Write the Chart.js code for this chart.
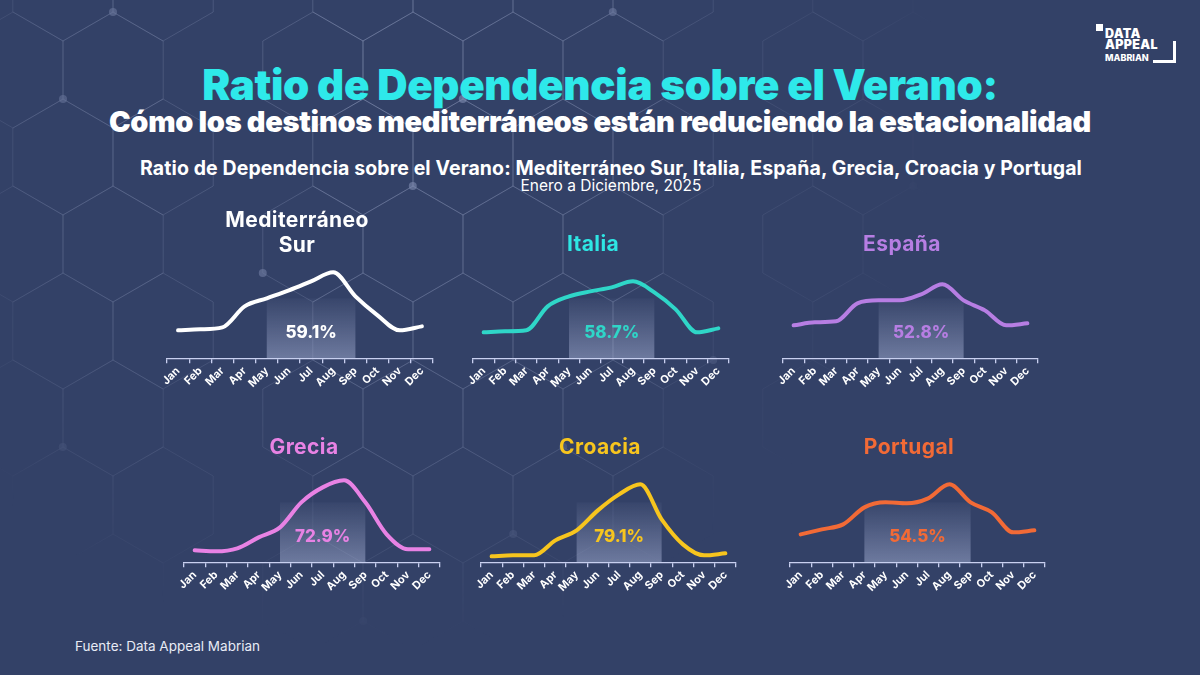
<!DOCTYPE html>
<html lang="es">
<head>
<meta charset="utf-8">
<title>Ratio de Dependencia sobre el Verano</title>
<script src="https://cdn.jsdelivr.net/npm/chart.js@4.4.1/dist/chart.umd.min.js"></script>
<style>
  html, body { margin: 0; padding: 0; }
  body {
    width: 1200px; height: 675px; overflow: hidden; position: relative;
    background: #334167; font-family: Inter, "Noto Sans", sans-serif; color: #fff;
  }
  #hex { position: absolute; left: 0; top: 0; }
  .txt { position: absolute; white-space: nowrap; }
  .center { transform: translateX(-50%); text-align: center; }
  #title { left: 600px; top: 62px; font-size: 42px; font-weight: 900; color: #2ee9ea; letter-spacing: -0.3px; line-height: 46px; }
  #subtitle { left: 600px; top: 105px; font-size: 29px; font-weight: 900; letter-spacing: -0.3px; line-height: 34px; }
  #chartTitle { left: 611px; top: 156px; font-size: 19.5px; font-weight: 700; line-height: 24px; letter-spacing: 0.1px; }
  #chartSub { left: 611px; top: 177px; font-size: 15.5px; font-weight: 400; line-height: 18px; }
  .regionTitle { font-size: 21px; font-weight: 700; line-height: 25px; letter-spacing: 0.4px; }
  #source { left: 75px; top: 638px; font-size: 13.5px; color: #e8ebf5; }
  #logo { position: absolute; left: 1094px; top: 22px; width: 90px; height: 46px; }
  #logo .sq { position: absolute; left: 2px; top: 2px; width: 7px; height: 7px; background: #fff; }
  #logo .l1 { position: absolute; left: 11px; top: 6px; font-size: 12.5px; font-weight: 900; line-height: 11px; letter-spacing: 0.3px; }
  #logo .l2 { position: absolute; left: 11px; top: 31px; font-size: 9px; font-weight: 800; line-height: 10px; }
  #logo .v { position: absolute; left: 79px; top: 19px; width: 3px; height: 22px; background: #fff; }
  #logo .h { position: absolute; left: 59px; top: 38px; width: 23px; height: 3px; background: #fff; }
  canvas.mini { position: absolute; }
</style>
</head>
<body>
<svg id="hex" width="1200" height="675"></svg>

<div id="title" class="txt center">Ratio de Dependencia sobre el Verano:</div>
<div id="subtitle" class="txt center">Cómo los destinos mediterráneos están reduciendo la estacionalidad</div>
<div id="chartTitle" class="txt center">Ratio de Dependencia sobre el Verano: Mediterráneo Sur, Italia, España, Grecia, Croacia y Portugal</div>
<div id="chartSub" class="txt center">Enero a Diciembre, 2025</div>
<div id="source" class="txt">Fuente: Data Appeal Mabrian</div>

<div id="logo">
  <div class="sq"></div>
  <div class="l1">DATA<br>APPEAL</div>
  <div class="l2">MABRIAN</div>
  <div class="v"></div>
  <div class="h"></div>
</div>

<script>
// ---- data ----
const months = ['Jan', 'Feb', 'Mar', 'Apr', 'May', 'Jun', 'Jul', 'Aug', 'Sep', 'Oct', 'Nov', 'Dec'];
const regions = ['Mediterráneo Sur', 'Italia', 'España', 'Grecia', 'Croacia', 'Portugal'];

// monthly visitor index
const medSur   = [28, 29, 31, 52, 60, 68, 77, 86, 62, 43, 28, 32];
const italia   = [26, 27, 28, 52, 62, 67, 71, 77, 66, 49, 26, 30];
const espana   = [33, 36, 37, 55, 58, 58, 64, 74, 58, 48, 33, 35];
const grecia   = [12, 11, 14, 25, 35, 60, 75, 82, 60, 28, 13, 13];
const croacia  = [ 6,  7,  7, 22, 32, 52, 68, 78, 43, 18,  7,  9];
const portugal = [28, 33, 38, 55, 60, 59, 64, 78, 60, 50, 30, 32];

const ratios = [59.1, 58.7, 52.8, 72.9, 79.1, 54.5];
const summerStart = ['May', 'May', 'May', 'May', 'May', 'Apr'];
const summerEnd = ['Sep', 'Sep', 'Sep', 'Sep', 'Sep', 'Sep'];

const series = [medSur, italia, espana, grecia, croacia, portugal];

// ---- styles / layout ----
const colors = ['#ffffff', '#2fd6c8', '#b77ee3', '#e882e4', '#f7c51e', '#f26a36'];
const titleColors = ['#ffffff', '#2ee6e4', '#b77ee3', '#e882e4', '#f7c51e', '#f26a36'];
// chart area left/right edge and axis line position
const panels = [
    { x0: 167, x1: 433, axis: 358, tx: 297, ty: 207 },
    { x0: 473, x1: 729, axis: 358, tx: 593, ty: 231 },
    { x0: 783, x1: 1038, axis: 358, tx: 902, ty: 231 },
    { x0: 184, x1: 440, axis: 562, tx: 304, ty: 434 },
    { x0: 481, x1: 736, axis: 562, tx: 600, ty: 434 },
    { x0: 790, x1: 1045, axis: 562, tx: 909, ty: 434 }
];
const BOX_TOP = 60;     // value units (1 unit = 1px)
const LABEL_Y = 25;

// ---- background hexagon network ----
function drawHexBackground() {
    const svg = document.getElementById('hex');
    const ns = 'http://www.w3.org/2000/svg';
    const defs = document.createElementNS(ns, 'defs');
    defs.innerHTML =
        '<radialGradient id="fade" cx="380" cy="90" r="560" gradientUnits="userSpaceOnUse">' +
        '<stop offset="0" stop-color="#fff" stop-opacity="1"/>' +
        '<stop offset="0.6" stop-color="#fff" stop-opacity="0.55"/>' +
        '<stop offset="1" stop-color="#fff" stop-opacity="0"/></radialGradient>' +
        '<mask id="m"><rect width="1200" height="675" fill="url(#fade)"/></mask>';
    svg.appendChild(defs);
    const g = document.createElementNS(ns, 'g');
    g.setAttribute('mask', 'url(#m)');
    g.setAttribute('stroke', '#aab4d4');
    g.setAttribute('stroke-opacity', '0.28');
    g.setAttribute('stroke-width', '1');
    g.setAttribute('fill', 'none');
    svg.appendChild(g);

    const w = 100, s = 58;
    let d = '';
    const dots = [];
    for (let row = -1; row < 7; row++) {
        for (let col = -1; col < 12; col++) {
            if ((row * 5 + col * 7) % 5 === 2) continue;   // leave gaps so the web looks loose
            const cx = 113 + col * w + (row % 2 ? w / 2 : 0);
            const cy = 70 + row * s * 1.5;
            const pts = [];
            for (let k = 0; k < 6; k++) {
                const a = Math.PI / 180 * (60 * k - 90);
                pts.push([cx + s * Math.cos(a), cy + s * Math.sin(a)]);
            }
            d += 'M' + pts.map(p => p[0].toFixed(1) + ',' + p[1].toFixed(1)).join('L') + 'Z';
            if ((row * 7 + col * 3) % 4 === 0) dots.push(pts[(row + col + 6) % 6]);
        }
    }
    const path = document.createElementNS(ns, 'path');
    path.setAttribute('d', d);
    g.appendChild(path);
    dots.forEach(p => {
        const c = document.createElementNS(ns, 'circle');
        c.setAttribute('cx', p[0]);
        c.setAttribute('cy', p[1]);
        c.setAttribute('r', 4);
        c.setAttribute('fill', '#8c98bd');
        c.setAttribute('fill-opacity', '0.6');
        c.setAttribute('stroke', 'none');
        g.appendChild(c);
    });
}
drawHexBackground();

// ---- summer box + ratio label ----
const summerPlugin = {
    id: 'summerBox',
    beforeDatasetsDraw(chart, args, opts) {
        const { ctx } = chart;
        const xs = chart.scales.x, ys = chart.scales.y;
        const left = xs.getPixelForValue(months.indexOf(opts.start));
        const right = xs.getPixelForValue(months.indexOf(opts.end));
        const bottom = ys.getPixelForValue(0);
        const top = ys.getPixelForValue(BOX_TOP);
        const grad = ctx.createLinearGradient(0, top, 0, bottom);
        grad.addColorStop(0, 'rgba(190,200,235,0.04)');
        grad.addColorStop(1, 'rgba(190,200,235,0.42)');
        ctx.save();
        ctx.fillStyle = grad;
        ctx.fillRect(left, top, right - left, bottom - top);
        ctx.restore();
    },
    afterDatasetsDraw(chart, args, opts) {
        const { ctx } = chart;
        const xs = chart.scales.x, ys = chart.scales.y;
        const left = xs.getPixelForValue(months.indexOf(opts.start));
        const right = xs.getPixelForValue(months.indexOf(opts.end));
        ctx.save();
        ctx.font = '800 17px Inter, "Noto Sans", sans-serif';
        ctx.fillStyle = opts.color;
        ctx.textAlign = 'center';
        ctx.textBaseline = 'middle';
        ctx.fillText(opts.label, (left + right) / 2, ys.getPixelForValue(LABEL_Y));
        ctx.restore();
    }
};

function makePanel(i) {
    const p = panels[i];
    const padL = 30, padR = 30, padT = 6;
    const canvas = document.createElement('canvas');
    canvas.className = 'mini';
    canvas.width = (p.x1 - p.x0) + padL + padR;
    canvas.height = 170;
    canvas.style.width = canvas.width + 'px';
    canvas.style.height = canvas.height + 'px';
    document.body.appendChild(canvas);

    const t = document.createElement('div');
    t.className = 'txt center regionTitle';
    t.style.left = p.tx + 'px';
    t.style.top = p.ty + 'px';
    t.style.color = titleColors[i];
    t.innerHTML = i === 0 ? 'Mediterráneo<br>Sur' : regions[i];
    document.body.appendChild(t);

    const axisColor = '#c9d0f0';
    const chart = new Chart(canvas, {
        type: 'line',
        data: {
            labels: months,
            datasets: [{
                label: regions[i],
                data: series[i],
                borderColor: colors[i],
                borderWidth: 4,
                borderCapStyle: 'round',
                borderJoinStyle: 'round',
                pointRadius: 0,
                tension: 0.45,
                cubicInterpolationMode: 'monotone',
                fill: false
            }]
        },
        options: {
            responsive: false,
            animation: false,
            layout: { padding: { left: padL, right: padR, top: padT, bottom: 0 } },
            plugins: {
                legend: { display: false },
                tooltip: { enabled: false },
                summerBox: {
                    start: summerStart[i],
                    end: summerEnd[i],
                    label: ratios[i].toFixed(1) + '%',
                    color: colors[i]
                }
            },
            scales: {
                x: {
                    offset: true,
                    border: { display: true, color: axisColor, width: 1.3 },
                    grid: { display: true, offset: true, drawOnChartArea: false, tickLength: 5, color: axisColor, lineWidth: 1.3 },
                    ticks: {
                        color: '#ffffff',
                        autoSkip: false,
                        maxRotation: 45,
                        minRotation: 45,
                        padding: 1,
                        font: { family: 'Inter, "Noto Sans", sans-serif', size: 11, weight: '700' }
                    }
                },
                y: { display: false, min: 0, max: 100 }
            }
        },
        plugins: [summerPlugin]
    });

    // one value unit per pixel, then line the chart area up with the panel
    const area = chart.chartArea;
    chart.options.scales.y.max = area.bottom - area.top;
    chart.update();
    canvas.style.left = (p.x0 - chart.chartArea.left) + 'px';
    canvas.style.top = (p.axis - chart.chartArea.bottom) + 'px';
}

for (let i = 0; i < regions.length; i++) makePanel(i);
</script>
</body>
</html>
